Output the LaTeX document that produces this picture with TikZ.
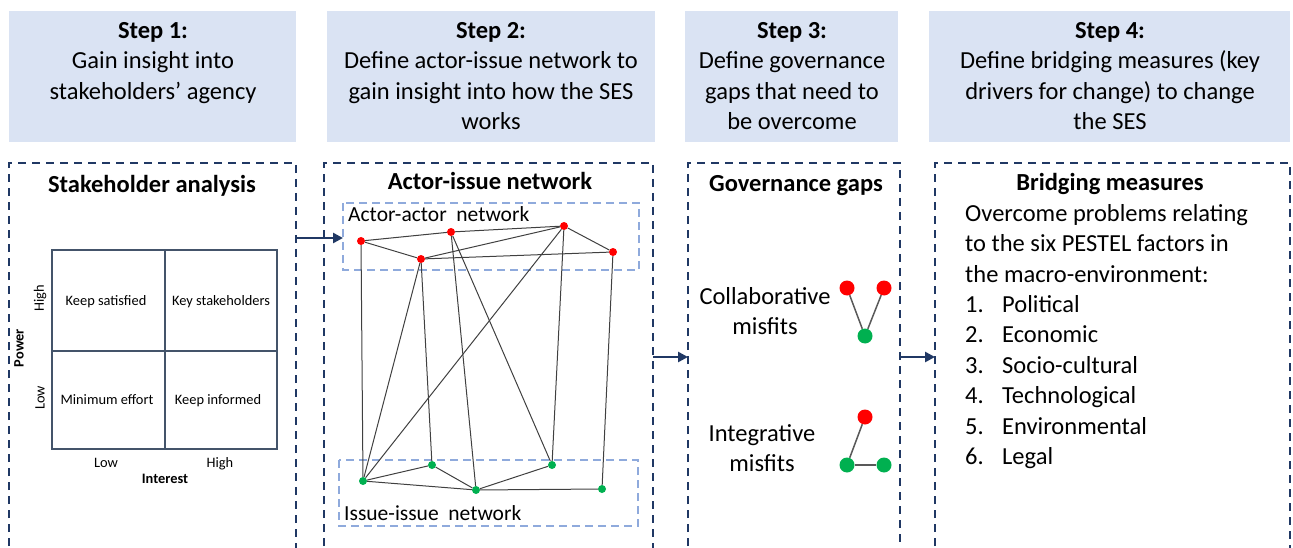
\documentclass[tikz,border=0pt]{standalone}
\usepackage{fontspec}
\setmainfont{Carlito}
\usetikzlibrary{arrows.meta}

\definecolor{hdrfill}{HTML}{DAE3F3}
\definecolor{navy}{HTML}{203864}
\definecolor{lightdash}{HTML}{8FAADC}
\definecolor{gridline}{HTML}{44546A}
\definecolor{actorred}{HTML}{FF0000}
\definecolor{issuegreen}{HTML}{00B050}
\definecolor{edgegray}{HTML}{404040}
\definecolor{misfitgray}{HTML}{595959}

% fixed-height first line so that a node's top sits 20pt above its first baseline
\newcommand{\firstline}{\rule{0pt}{20pt}}

\begin{document}
\begin{tikzpicture}[x=1pt,y=-1pt,
  hdrbox/.style={fill=hdrfill},
  hdrtext/.style={anchor=north, inner sep=0pt, align=center,
    font=\fontsize{24.5}{30.6}\selectfont},
  panel/.style={draw=navy, line width=2pt, dash pattern=on 8pt off 6pt},
  subnet/.style={draw=lightdash, line width=1.5pt, dash pattern=on 8pt off 5pt},
  paneltitle/.style={anchor=base, inner sep=0pt, font=\fontsize{24.5}{30}\selectfont\bfseries},
  bodytext/.style={inner sep=0pt, font=\fontsize{24.5}{30.4}\selectfont},
  subnetlabel/.style={anchor=base west, inner sep=0pt, font=\fontsize{21.5}{26}\selectfont},
  cell/.style={anchor=base, inner sep=0pt, font=\fontsize{14.4}{17}\selectfont},
  axislabel/.style={inner sep=0pt, font=\fontsize{14.4}{17}\selectfont},
  gridrule/.style={draw=gridline, line width=1.1pt},
  flow/.style={draw=navy, line width=2.9pt, -{Triangle[length=10pt,width=10pt]}},
  actor/.style={circle, fill=actorred, inner sep=0pt, minimum size=8pt},
  issue/.style={circle, fill=issuegreen, inner sep=0pt, minimum size=8pt},
  netedge/.style={draw=edgegray, line width=1pt},
  bigactor/.style={circle, fill=actorred, inner sep=0pt, minimum size=15pt},
  bigissue/.style={circle, fill=issuegreen, inner sep=0pt, minimum size=15pt},
  misfitedge/.style={draw=misfitgray, line width=1.5pt},
]
\useasboundingbox (0,0) rectangle (1293,548);

% ---------- step headers ----------
\fill[hdrbox] (9,11) rectangle (296,142);
\fill[hdrbox] (327,11) rectangle (655,142);
\fill[hdrbox] (685,11) rectangle (898,142);
\fill[hdrbox] (929,11) rectangle (1290,142);

\node[hdrtext] (h1) at (153,18) {\firstline\textbf{Step 1:}\\Gain insight into\\stakeholders’ agency};
\node[hdrtext] (h2) at (491,18) {\firstline\textbf{Step 2:}\\Define actor-issue network to\\gain insight into how the SES\\works};
\node[hdrtext] (h3) at (792,18) {\firstline\textbf{Step 3:}\\Define governance\\gaps that need to\\be overcome};
\node[hdrtext] (h4) at (1110,18) {\firstline\textbf{Step 4:}\\Define bridging measures (key\\drivers for change) to change\\the SES};

% ---------- dashed panels (open towards the bottom edge) ----------
\draw[panel] (9,560) -- (9,163) -- (296,163) -- (296,560);
\draw[panel] (324,560) -- (324,163) -- (653,163) -- (653,560);
\draw[panel] (688,560) -- (688,163) -- (900,163) -- (900,560);
\draw[panel] (935,560) -- (935,163) -- (1290,163) -- (1290,560);

% ---------- panel 1: stakeholder analysis ----------
\node[paneltitle] (t1) at (152,193) {Stakeholder analysis};
\draw[gridrule] (52,250) rectangle (277,449);
\draw[gridrule] (165,250) -- (165,449);
\draw[gridrule] (52,351) -- (277,351);
\node[cell] (c11) at (106,305) {Keep satisfied};
\node[cell] (c12) at (221,305) {Key stakeholders};
\node[cell] (c21) at (107,404) {Minimum effort};
\node[cell] (c22) at (218,404) {Keep informed};
\node[axislabel, rotate=90] (phigh) at (40,298) {High};
\node[axislabel, rotate=90] (plow) at (40,398) {Low};
\node[axislabel, rotate=90, font=\fontsize{14.4}{17}\selectfont\bfseries] (power) at (19,348) {Power};
\node[cell] (ilow) at (106,467) {Low};
\node[cell] (ihigh) at (220,467) {High};
\node[cell, font=\fontsize{14.4}{17}\selectfont\bfseries] (interest) at (165,483) {Interest};

% ---------- panel 2: actor-issue network ----------
\node[paneltitle] (t2) at (490,190) {Actor-issue network};
\draw[subnet] (343,203) rectangle (639,270);
\draw[subnet] (339,460) rectangle (638,526);
\node[subnetlabel] (aalabel) at (348,222) {Actor-actor\ \ network};
\node[subnetlabel] (iilabel) at (344,520) {Issue-issue\ \ network};

\node[actor] (a1) at (361,241) {};
\node[actor] (a2) at (451,232) {};
\node[actor] (a3) at (564,226) {};
\node[actor] (a4) at (421,259) {};
\node[actor] (a5) at (613,252) {};
\node[issue] (i1) at (363,481) {};
\node[issue] (i2) at (432,465) {};
\node[issue] (i3) at (476,490) {};
\node[issue] (i4) at (552,465) {};
\node[issue] (i5) at (602,489) {};

\foreach \u/\v in {a1/a2, a1/a4, a2/a3, a4/a3, a4/a5, a3/a5,
                   a1/i1, a4/i1, a4/i2, a2/i3, a2/i4, a3/i1, a3/i4, a5/i5,
                   i1/i2, i2/i3, i1/i3, i3/i4, i3/i5}
  \draw[netedge] (\u) -- (\v);

% ---------- panel 3: governance gaps ----------
\node[paneltitle] (t3) at (796,192) {Governance gaps};
\node[bodytext, anchor=north, align=center] (collab) at (765,284) {\firstline Collaborative\\misfits};
\node[bodytext, anchor=north, align=center] (integ) at (762,421) {\firstline Integrative\\misfits};

\node[bigactor] (cr1) at (847,288) {};
\node[bigactor] (cr2) at (884,288) {};
\node[bigissue] (cg) at (865,336) {};
\draw[misfitedge] (cr1) -- (cg);
\draw[misfitedge] (cr2) -- (cg);

\node[bigactor] (ir) at (865,417) {};
\node[bigissue] (ig1) at (847,465) {};
\node[bigissue] (ig2) at (884,465) {};
\draw[misfitedge] (ir) -- (ig1);
\draw[misfitedge] (ig1) -- (ig2);

% ---------- panel 4: bridging measures ----------
\node[paneltitle] (t4) at (1110,191) {Bridging measures};
\node[bodytext, anchor=north west, align=left] (pestel) at (965,201) {%
  \firstline Overcome problems relating\\
  to the six PESTEL factors in\\
  the macro-environment:\\
  \makebox[37pt][l]{1.}Political\\
  \makebox[37pt][l]{2.}Economic\\
  \makebox[37pt][l]{3.}Socio-cultural\\
  \makebox[37pt][l]{4.}Technological\\
  \makebox[37pt][l]{5.}Environmental\\
  \makebox[37pt][l]{6.}Legal};

% ---------- flow arrows between panels ----------
\coordinate (f1s) at (296,238);
\coordinate (f1e) at (343,238);
\coordinate (f2s) at (653,357);
\coordinate (f2e) at (688,357);
\coordinate (f3s) at (900,357);
\coordinate (f3e) at (935,357);
\draw[flow] (f1s) -- (f1e);
\draw[flow] (f2s) -- (f2e);
\draw[flow] (f3s) -- (f3e);
\end{tikzpicture}
\end{document}
